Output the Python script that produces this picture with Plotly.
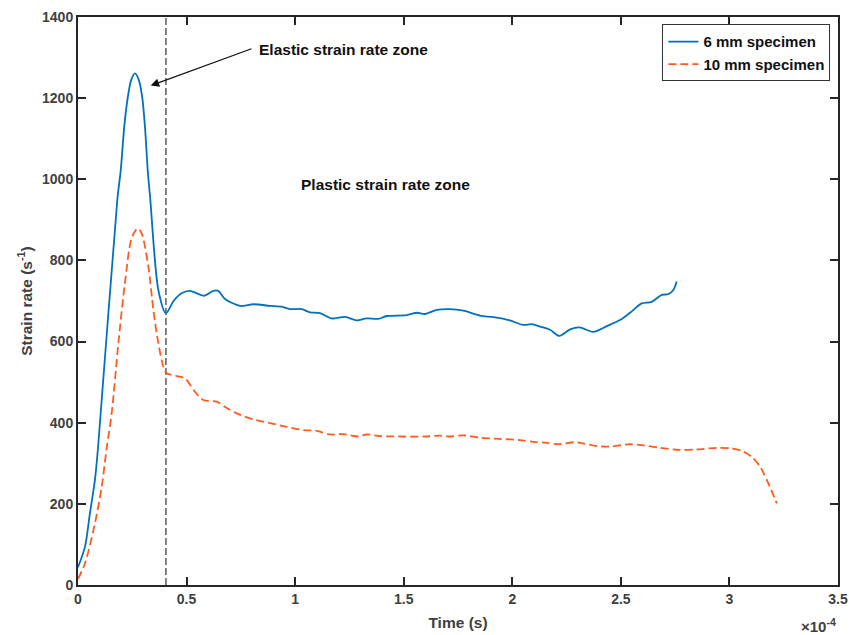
import plotly.graph_objects as go

# Time axis values are expressed in units of 1e-4 s (axis shows the x10^-4 multiplier)
time_6mm = [0, 0.032, 0.055, 0.078, 0.092, 0.181, 0.197, 0.213, 0.229, 0.245, 0.2625, 0.280,
            0.296, 0.309, 0.321, 0.333, 0.370, 0.405, 0.440, 0.477, 0.516, 0.547, 0.582, 0.623,
            0.646, 0.677, 0.746, 0.808, 0.884, 0.938, 0.976, 1.030, 1.069, 1.114, 1.168, 1.230,
            1.283, 1.329, 1.383, 1.422, 1.514, 1.560, 1.598, 1.652, 1.713, 1.775, 1.851, 1.913,
            1.989, 2.051, 2.089, 2.128, 2.174, 2.217, 2.266, 2.309, 2.373, 2.435, 2.496, 2.542,
            2.596, 2.642, 2.688, 2.719, 2.742, 2.757]
rate_6mm = [44, 94, 177, 259, 337, 949, 1023, 1130, 1201, 1245, 1261, 1245,
            1201, 1125, 1023, 950, 727, 670, 700, 719, 725, 719, 713, 725,
            725, 705, 688, 692, 688, 686, 680, 680, 672, 670, 657, 661,
            652, 657, 656, 663, 665, 671, 668, 678, 680, 676, 664, 660,
            652, 641, 643, 637, 629, 614, 630, 635, 624, 638, 653, 671,
            694, 698, 715, 717, 727, 748]

time_10mm = [0, 0.032, 0.078, 0.109, 0.132, 0.155, 0.186, 0.216, 0.247, 0.275, 0.293, 0.324,
             0.347, 0.370, 0.393, 0.408, 0.455, 0.493, 0.539, 0.577, 0.639, 0.677, 0.731, 0.808,
             0.884, 0.961, 1.038, 1.099, 1.161, 1.222, 1.291, 1.329, 1.391, 1.483, 1.598, 1.667,
             1.713, 1.775, 1.851, 1.943, 2.036, 2.097, 2.151, 2.213, 2.290, 2.327, 2.382, 2.450,
             2.542, 2.604, 2.680, 2.772, 2.849, 2.941, 3.003, 3.056, 3.102, 3.141, 3.179, 3.218]
rate_10mm = [15, 53, 152, 242, 337, 423, 596, 744, 855, 879, 867, 785,
             678, 596, 538, 522, 515, 509, 476, 456, 452, 439, 423, 408,
             399, 390, 382, 380, 371, 372, 366, 371, 367, 366, 366, 368,
             366, 369, 363, 360, 357, 353, 351, 347, 352, 349, 343, 341,
             347, 344, 338, 333, 334, 338, 337, 331, 316, 292, 251, 201]

x_ticks = [0, 0.5, 1, 1.5, 2, 2.5, 3, 3.5]
x_tick_labels = ["0", "0.5", "1", "1.5", "2", "2.5", "3", "3.5"]
y_ticks = [0, 200, 400, 600, 800, 1000, 1200, 1400]

zone_boundary = 0.405  # elastic/plastic transition time (x1e-4 s)
elastic_arrow_tip = (0.335, 1231)
elastic_arrow_tail = (0.806, 1323)
elastic_label_pos = (0.825, 1321)
plastic_label_pos = (1.414, 988)

FONT = "Liberation Sans, Arial, Helvetica, sans-serif"
AXIS_GREY = "#404040"

fig = go.Figure()
fig.add_trace(go.Scatter(
    x=time_6mm, y=rate_6mm, mode="lines", name="6 mm specimen",
    line=dict(color="#0072BD", width=1.8, shape="spline", smoothing=0.8),
))
fig.add_trace(go.Scatter(
    x=time_10mm, y=rate_10mm, mode="lines", name="10 mm specimen",
    line=dict(color="#FF5B21", width=1.8, dash="8px,4px", shape="spline", smoothing=0.8),
))

# Dashed vertical line separating the two zones
fig.add_shape(type="line", xref="x", yref="y", x0=zone_boundary, x1=zone_boundary,
              y0=0, y1=1400, line=dict(color="#5a5a5a", width=1.5, dash="7px,3px"), layer="below")

axis_common = dict(
    showgrid=False, zeroline=False, showline=True, linecolor="#262626", linewidth=2,
    mirror="ticks", ticks="inside", ticklen=8, tickwidth=2, tickcolor="#262626",
    tickfont=dict(family=FONT, size=14, color=AXIS_GREY, weight="bold"),
)

fig.update_xaxes(range=[0, 3.5], tickvals=x_ticks, ticktext=x_tick_labels, automargin=False,
                 title=dict(text="Time (s)", standoff=11,
                            font=dict(family=FONT, size=15.5, color=AXIS_GREY, weight="bold")),
                 **axis_common)
fig.update_yaxes(range=[0, 1400], tickvals=y_ticks, automargin=False,
                 title=dict(text="Strain rate (s<sup>-1</sup>)", standoff=6,
                            font=dict(family=FONT, size=15.5, color=AXIS_GREY, weight="bold")),
                 **axis_common)

annotations = [
    dict(x=elastic_arrow_tip[0], y=elastic_arrow_tip[1], xref="x", yref="y",
         ax=elastic_arrow_tail[0], ay=elastic_arrow_tail[1], axref="x", ayref="y",
         text="", showarrow=True, arrowhead=2, arrowsize=1.4,
         arrowwidth=1.2, arrowcolor="#111"),
    dict(x=elastic_label_pos[0], y=elastic_label_pos[1], xref="x", yref="y",
         text="Elastic strain rate zone", showarrow=False, xanchor="left",
         font=dict(family=FONT, size=15.5, color="#111", weight="bold")),
    dict(x=plastic_label_pos[0], y=plastic_label_pos[1], xref="x", yref="y",
         text="Plastic strain rate zone", showarrow=False,
         font=dict(family=FONT, size=15.5, color="#111", weight="bold")),
    dict(x=1.0, y=-0.072, xref="paper", yref="paper", text="\u00d710<sup>-4</sup>",
         showarrow=False, xanchor="right", yanchor="middle",
         font=dict(family=FONT, size=15, color=AXIS_GREY, weight="bold")),
]

fig.update_layout(
    width=849, height=635,
    margin=dict(l=78, r=11, t=17, b=50),
    paper_bgcolor="white", plot_bgcolor="white",
    showlegend=True,
    legend=dict(x=0.990, y=0.987, xanchor="right", yanchor="top",
                bgcolor="white", bordercolor="#333", borderwidth=1,
                font=dict(family=FONT, size=15, color="#111", weight="bold"),
                tracegroupgap=0, itemwidth=30),
    annotations=annotations,
)

fig.write_html("out.html")
